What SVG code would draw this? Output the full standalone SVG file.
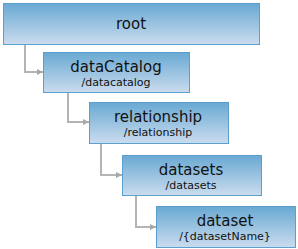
<svg xmlns="http://www.w3.org/2000/svg" width="298" height="249" viewBox="0 0 298 249">
<defs>
<linearGradient id="g" x1="0" y1="0" x2="0" y2="1">
<stop offset="0" stop-color="#69a9d3"/>
<stop offset="1" stop-color="#cbdcee"/>
</linearGradient>
<marker id="a" viewBox="0 0 6 6" refX="6" refY="3" markerWidth="6" markerHeight="6" markerUnits="userSpaceOnUse" orient="auto">
<path d="M0,0 L6,3 L0,6 Z" fill="#a8a8a8"/>
</marker>
<style>
.box{fill:url(#g);stroke:#5b9fcf;stroke-width:1}
.t{font-family:"DejaVu Sans",sans-serif;font-size:15px;fill:#111;text-anchor:middle}
.s{font-family:"DejaVu Sans",sans-serif;font-size:11px;fill:#111;text-anchor:middle}
.c{fill:none;stroke:#b4b4b4;stroke-width:2;marker-end:url(#a)}
</style>
</defs>
<g id="connectors">
<path class="c" d="M25,44 V72 H43"/>
<path class="c" d="M68,92 V122 H89"/>
<path class="c" d="M101,143 V175 H122"/>
<path class="c" d="M136,195 V227 H156"/>
</g>
<g id="root">
<rect class="box" x="3.5" y="3.5" width="256" height="41"/>
<text class="t" x="131" y="29">root</text>
</g>
<g id="dataCatalog">
<rect class="box" x="43.5" y="52.5" width="146" height="40"/>
<text class="t" x="116" y="72">dataCatalog</text>
<text class="s" x="116" y="86">/datacatalog</text>
</g>
<g id="relationship">
<rect class="box" x="89.5" y="102.5" width="139" height="41"/>
<text class="t" x="158" y="122">relationship</text>
<text class="s" x="158" y="136">/relationship</text>
</g>
<g id="datasets">
<rect class="box" x="122.5" y="155.5" width="139" height="40"/>
<text class="t" x="191" y="175">datasets</text>
<text class="s" x="191" y="189">/datasets</text>
</g>
<g id="dataset">
<rect class="box" x="156.5" y="206.5" width="139" height="41"/>
<text class="t" x="225" y="226">dataset</text>
<text class="s" x="225" y="240">/{datasetName}</text>
</g>
</svg>
